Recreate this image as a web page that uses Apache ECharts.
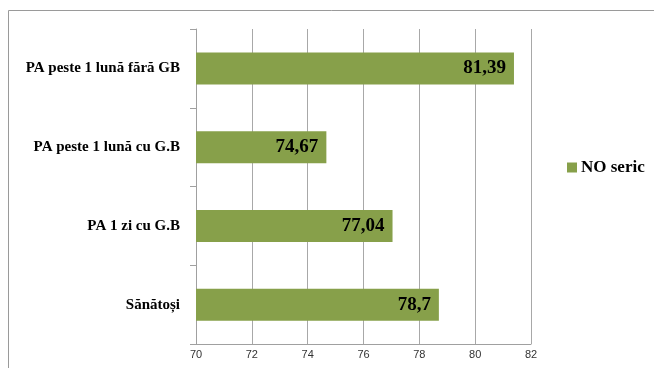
<!DOCTYPE html>
<html>
<head>
<meta charset="utf-8">
<script src="https://cdn.jsdelivr.net/npm/echarts@6/dist/echarts.min.js"></script>
<style>
  html, body { margin: 0; padding: 0; background: #fff; }
  #chart { width: 654px; height: 368px; }
</style>
</head>
<body>
<div id="chart"></div>
<script>
// categories bottom -> top (as ECharts draws a category y axis)
const categories = ['Sănătoși', 'PA 1 zi cu G.B', 'PA peste 1 lună cu G.B', 'PA peste 1 lună fără GB']
const noSeric = [78.7, 77.04, 74.67, 81.39]
const xTicks = [70, 72, 74, 76, 78, 80, 82]

const myChart = echarts.init(document.getElementById('chart'))
myChart.setOption({
  animation: false,
  color: ['#87a04a'],
  // outer frame of the chart area
  graphic: [{
    type: 'rect',
    shape: { x: 8.5, y: 10.5, width: 700, height: 400 },
    style: { fill: 'none', stroke: '#9a9a9a', lineWidth: 1 }
  }],
  grid: { left: 196, right: 123, top: 29, bottom: 24 },
  legend: {
    left: 562,
    top: 154,
    itemWidth: 10,
    itemHeight: 10,
    icon: 'rect',
    itemGap: 4,
    textStyle: { fontFamily: 'Liberation Serif', fontWeight: 'bold', fontSize: 17, color: '#000', padding: [0, 0, 0, -1] }
  },
  xAxis: {
    type: 'value',
    min: xTicks[0],
    max: xTicks[xTicks.length - 1],
    interval: 2,
    axisLine: { show: true, lineStyle: { color: '#a0a0a0' } },
    axisTick: { show: false },
    axisLabel: { color: '#333', fontFamily: 'Liberation Sans', fontSize: 11, margin: 5 },
    splitLine: { show: true, lineStyle: { color: '#a8a8a8' } }
  },
  yAxis: {
    type: 'category',
    data: categories,
    axisLine: { show: true, lineStyle: { color: '#a0a0a0' } },
    axisTick: { show: true, length: 6, lineStyle: { color: '#a0a0a0' } },
    axisLabel: {
      color: '#000', fontFamily: 'Liberation Serif', fontWeight: 'bold', fontSize: 15, margin: 16
    }
  },
  series: [{
    name: 'NO seric',
    type: 'bar',
    data: noSeric,
    barWidth: 32,
    label: {
      show: true,
      position: 'insideRight',
      distance: 8,
      color: '#000',
      fontFamily: 'Liberation Serif',
      fontWeight: 'bold',
      fontSize: 19,
      formatter: p => String(p.value).replace('.', ',')
    }
  }]
})
</script>
</body>
</html>
